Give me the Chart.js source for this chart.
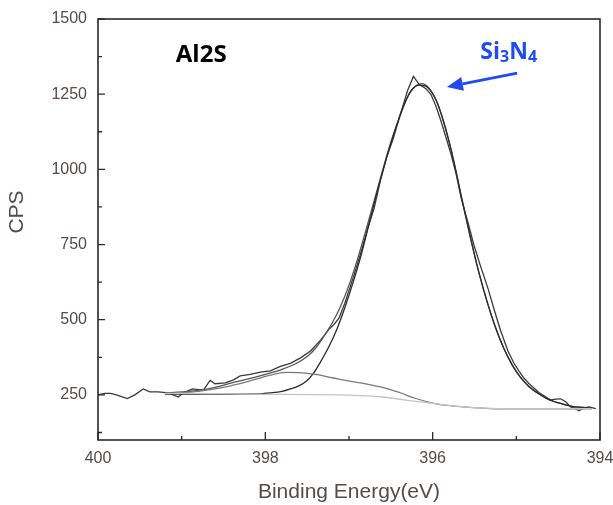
<!DOCTYPE html>
<html>
<head>
<meta charset="utf-8">
<script src="https://cdn.jsdelivr.net/npm/chart.js@4.4.1/dist/chart.umd.min.js"></script>
<style>
  html, body { margin: 0; padding: 0; background: #fff; }
  #wrap { width: 613px; height: 505px; position: relative; }
</style>
</head>
<body>
<div id="wrap"><canvas id="chart1"></canvas></div>
<script>
// measured spectrum (binding energy in eV, counts per second)
let rawEnergy = [400.00, 399.92, 399.85, 399.78, 399.65, 399.56, 399.46, 399.38, 399.28, 399.16, 399.04, 398.98, 398.87, 398.74, 398.66, 398.60, 398.48, 398.38, 398.30, 398.18, 398.06, 397.94, 397.82, 397.70, 397.58, 397.46, 397.34, 397.24, 397.18, 397.12, 397.05, 396.95, 396.85, 396.78, 396.70, 396.62, 396.55, 396.47, 396.40, 396.35, 396.30, 396.23, 396.16, 396.08, 396.02, 395.96, 395.90, 395.84, 395.78, 395.72, 395.66, 395.58, 395.51, 395.43, 395.34, 395.25, 395.19, 395.10, 395.03, 394.97, 394.91, 394.85, 394.79, 394.73, 394.67, 394.59, 394.53, 394.47, 394.41, 394.35, 394.30, 394.25, 394.19, 394.13, 394.05];
let rawCps = [250, 255, 255, 250, 238, 250, 270, 260, 260, 257, 243, 257, 270, 266, 298, 287, 290, 300, 313, 318, 326, 330, 345, 355, 373, 396, 432, 468, 484, 505, 555, 640, 730, 800, 870, 968, 1040, 1103, 1170, 1216, 1262, 1309, 1282, 1268, 1249, 1210, 1160, 1105, 1050, 985, 905, 825, 751, 680, 605, 520, 465, 396, 356, 330, 306, 288, 273, 258, 247, 233, 236, 237, 227, 210, 205, 197, 207, 210, 204];

// fitted envelope
let envEnergy = [399.20, 399.00, 398.80, 398.60, 398.40, 398.20, 398.00, 397.80, 397.65, 397.50, 397.40, 397.30, 397.20, 397.10, 397.00, 396.90, 396.80, 396.70, 396.60, 396.50, 396.40, 396.30, 396.20, 396.13, 396.05, 395.95, 395.85, 395.75, 395.65, 395.55, 395.45, 395.35, 395.25, 395.15, 395.05, 394.95, 394.85, 394.75, 394.65, 394.55, 394.45, 394.35, 394.25, 394.10];
let envCps = [256, 260, 265, 275, 290, 303, 318, 335, 352, 378, 405, 445, 490, 545, 615, 700, 795, 895, 995, 1090, 1170, 1240, 1278, 1285, 1272, 1225, 1140, 1030, 900, 775, 660, 560, 475, 405, 350, 308, 278, 257, 240, 228, 220, 213, 209, 206];

// Si3N4 component
let mainEnergy = [399.20, 398.80, 398.40, 398.14, 397.95, 397.80, 397.70, 397.60, 397.50, 397.43, 397.35, 397.25, 397.15, 397.05, 396.95, 396.85, 396.75, 396.65, 396.55, 396.45, 396.35, 396.25, 396.15, 396.05, 395.95, 395.85, 395.75, 395.65, 395.55, 395.45, 395.35, 395.25, 395.15, 395.05, 394.95, 394.85, 394.75, 394.65, 394.55, 394.45, 394.35, 394.25, 394.10];
let mainCps = [253, 253, 253, 253, 257, 262, 270, 280, 298, 320, 355, 405, 465, 540, 625, 720, 830, 940, 1040, 1130, 1210, 1265, 1280, 1270, 1225, 1140, 1030, 900, 775, 660, 560, 475, 405, 350, 308, 278, 257, 240, 228, 220, 213, 209, 206];

// second (broad) component
let sideEnergy = [399.10, 398.80, 398.50, 398.20, 397.95, 397.75, 397.60, 397.40, 397.20, 397.00, 396.80, 396.60, 396.40, 396.20, 396.00, 395.80, 395.60, 395.40, 395.20, 394.60, 394.10];
let sideCps = [255, 262, 275, 295, 315, 325, 324, 318, 307, 296, 287, 275, 258, 238, 223, 214, 209, 206, 204, 204, 204];

// background
let bgEnergy = [399.20, 398.50, 398.00, 397.50, 397.00, 396.60, 396.30, 396.00, 395.70, 395.40, 395.00, 394.50, 394.10];
let bgCps = [255, 254, 252, 251, 249, 243, 232, 222, 212, 206, 204, 204, 204];

let xLabelTicks = [400, 398, 396, 394];
let xMinorTicks = [399, 397, 395];
let yLabelTicks = [250, 500, 750, 1000, 1250, 1500];
let yMinorTicks = [125, 375, 625, 875, 1125, 1375];

let sampleLabel = 'Al2S';
let peakLabel = [['Si', false], ['3', true], ['N', false], ['4', true]];
let sampleLabelAt = [399.07, 1357];
let peakLabelAt = [395.43, 1367];
let arrowFrom = [394.99, 1320];
let arrowTo = [395.83, 1274];

function pts(xs, ys) {
  return xs.map((v, i) => ({ x: v, y: ys[i] }));
}

const frameAndMarks = {
  id: 'frameAndMarks',
  afterDraw(chart) {
    const ctx = chart.ctx;
    const a = chart.chartArea;
    const x = chart.scales.x, y = chart.scales.y;
    ctx.save();
    ctx.strokeStyle = '#2a2a2a';
    ctx.lineWidth = 1.6;
    ctx.strokeRect(a.left, a.top, a.right - a.left, a.bottom - a.top);

    // ticks point into the plot
    ctx.lineWidth = 1.3;
    ctx.beginPath();
    xLabelTicks.forEach(v => { const p = x.getPixelForValue(v); ctx.moveTo(p, a.bottom); ctx.lineTo(p, a.bottom - 8); });
    xMinorTicks.forEach(v => { const p = x.getPixelForValue(v); ctx.moveTo(p, a.bottom); ctx.lineTo(p, a.bottom - 4); });
    yLabelTicks.forEach(v => { const p = y.getPixelForValue(v); ctx.moveTo(a.left, p); ctx.lineTo(a.left + 7, p); });
    yMinorTicks.forEach(v => { const p = y.getPixelForValue(v); ctx.moveTo(a.left, p); ctx.lineTo(a.left + 4, p); });
    ctx.stroke();

    // sample name
    ctx.fillStyle = '#000';
    ctx.font = 'bold 24px "Open Sans", sans-serif';
    ctx.textBaseline = 'alphabetic';
    ctx.fillText(sampleLabel, x.getPixelForValue(sampleLabelAt[0]), y.getPixelForValue(sampleLabelAt[1]));

    // Si3N4 with subscripts
    const blue = '#1f4cf2';
    ctx.fillStyle = blue;
    let px = x.getPixelForValue(peakLabelAt[0]);
    const py = y.getPixelForValue(peakLabelAt[1]);
    peakLabel.forEach(([t, sub]) => {
      ctx.font = sub ? 'bold 16px "Open Sans", sans-serif' : 'bold 23px "Open Sans", sans-serif';
      ctx.fillText(t, px, sub ? py + 3 : py);
      px += ctx.measureText(t).width;
    });

    // arrow
    const x0 = x.getPixelForValue(arrowFrom[0]), y0 = y.getPixelForValue(arrowFrom[1]);
    const x1 = x.getPixelForValue(arrowTo[0]), y1 = y.getPixelForValue(arrowTo[1]);
    const ang = Math.atan2(y1 - y0, x1 - x0);
    const headLen = 16, headHalf = 7;
    const bx = x1 - headLen * Math.cos(ang), by = y1 - headLen * Math.sin(ang);
    ctx.strokeStyle = blue;
    ctx.lineWidth = 3;
    ctx.beginPath();
    ctx.moveTo(x0, y0);
    ctx.lineTo(bx, by);
    ctx.stroke();
    ctx.beginPath();
    ctx.moveTo(x1, y1);
    ctx.lineTo(bx + headHalf * Math.sin(ang), by - headHalf * Math.cos(ang));
    ctx.lineTo(bx - headHalf * Math.sin(ang), by + headHalf * Math.cos(ang));
    ctx.closePath();
    ctx.fill();
    ctx.restore();
  }
};

document.addEventListener('DOMContentLoaded', function () {
  const tickColor = '#574a4a';
  const fontFamily = '"Liberation Sans", Arial, sans-serif';
  const ctx = document.getElementById('chart1').getContext('2d');
  new Chart(ctx, {
    type: 'line',
    data: {
      datasets: [
        { data: pts(bgEnergy, bgCps), borderColor: '#c4c4c4', borderWidth: 1.3, cubicInterpolationMode: 'monotone' },
        { data: pts(sideEnergy, sideCps), borderColor: '#7a7a7a', borderWidth: 1.3, cubicInterpolationMode: 'monotone' },
        { data: pts(mainEnergy, mainCps), borderColor: '#2b2b2b', borderWidth: 1.3, cubicInterpolationMode: 'monotone' },
        { data: pts(envEnergy, envCps), borderColor: '#555', borderWidth: 1.3, cubicInterpolationMode: 'monotone' },
        { data: pts(rawEnergy, rawCps), borderColor: '#3a3a3a', borderWidth: 1.3, tension: 0 }
      ]
    },
    options: {
      responsive: true,
      maintainAspectRatio: false,
      animation: false,
      layout: { padding: { top: 19, right: 13, left: 0, bottom: 0 } },
      plugins: { legend: { display: false }, tooltip: { enabled: false } },
      elements: { point: { radius: 0 } },
      scales: {
        x: {
          type: 'linear',
          reverse: true,
          min: 394,
          max: 400,
          afterBuildTicks: s => { s.ticks = xLabelTicks.map(v => ({ value: v })); },
          afterFit: s => { s.height = 65; s.paddingLeft = 0; s.paddingRight = 0; },
          grid: { display: false, drawTicks: false },
          border: { display: false },
          ticks: { color: tickColor, padding: 9, maxRotation: 0, callback: v => String(v), font: { family: fontFamily, size: 16 } },
          title: { display: true, text: 'Binding Energy(eV)', color: tickColor, padding: { top: 0, bottom: 0 }, font: { family: fontFamily, size: 21 } }
        },
        y: {
          min: 100,
          max: 1500,
          afterBuildTicks: s => { s.ticks = yLabelTicks.map(v => ({ value: v })); },
          afterFit: s => { s.width = 98; s.paddingTop = 0; s.paddingBottom = 0; },
          grid: { display: false, drawTicks: false },
          border: { display: false },
          ticks: { color: tickColor, padding: 11, callback: v => String(v), font: { family: fontFamily, size: 16 } },
          // leading spaces lift the title a little above the middle, as in the source figure
          title: { display: true, text: '      CPS', color: tickColor, padding: { top: 5, bottom: 0 }, font: { family: fontFamily, size: 21 } }
        }
      }
    },
    plugins: [frameAndMarks]
  });
});
</script>
</body>
</html>
